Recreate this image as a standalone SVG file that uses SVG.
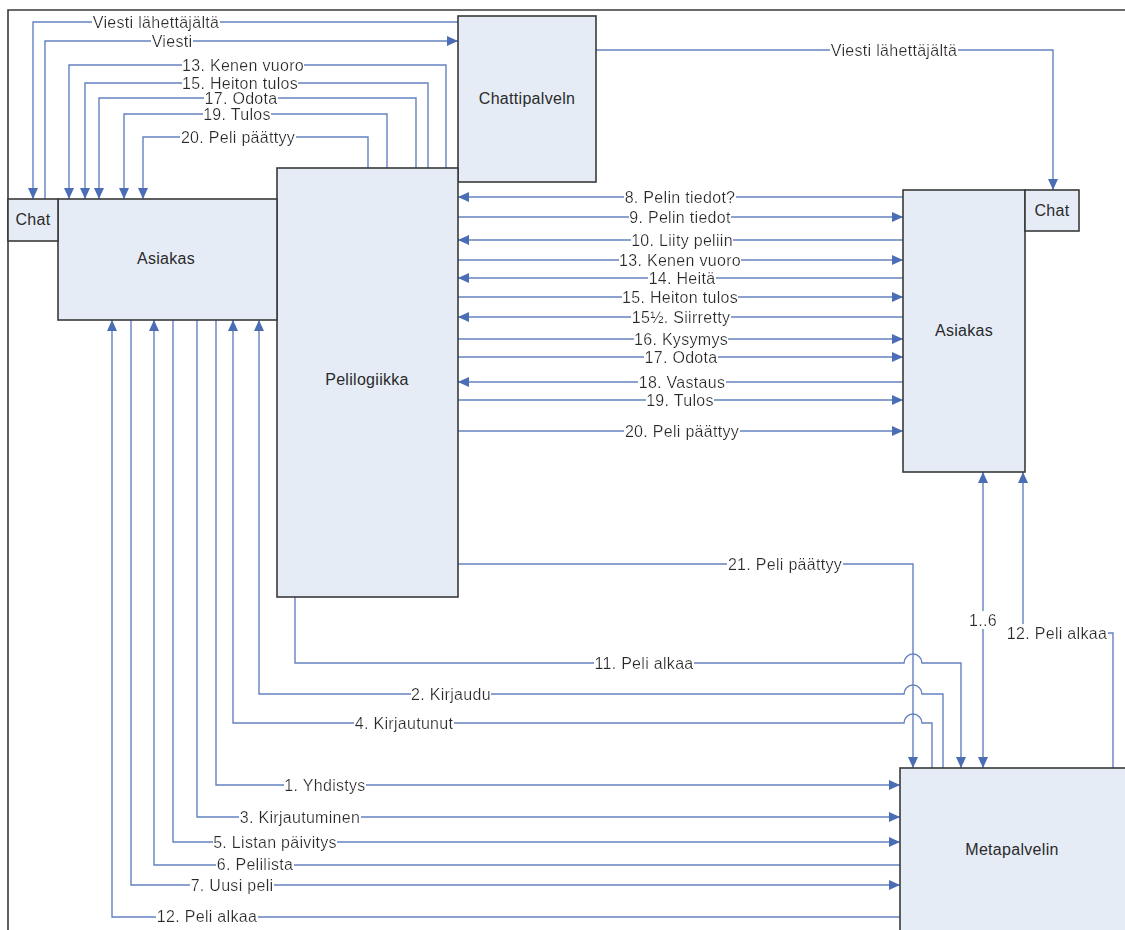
<svg xmlns="http://www.w3.org/2000/svg" width="1125" height="930" viewBox="0 0 1125 930">
<style>
.box{fill:#e6ecf6;stroke:#3a3a3a;stroke-width:1.6}
.nt{font-family:"Liberation Sans",Arial,sans-serif;font-size:16px;letter-spacing:0.3px;fill:#2a2a2a;text-anchor:middle}
.ln{fill:none;stroke:#6482c0;stroke-width:1.4}
.lb{font-family:"Liberation Sans",Arial,sans-serif;font-size:16px;letter-spacing:0.3px;fill:#2a2a2a;text-anchor:middle;filter:url(#bg)}
.frame{fill:none;stroke:#3a3a3a;stroke-width:1.6}
</style>
<defs>
<marker id="ar" markerUnits="userSpaceOnUse" markerWidth="12" markerHeight="11" refX="11" refY="5" orient="auto-start-reverse">
<path d="M0,0 L11,5 L0,10 z" fill="#4a6db5"/>
</marker>
<filter id="bg" x="0" y="0" width="1" height="1">
<feFlood flood-color="#ffffff" result="f"/>
<feMerge><feMergeNode in="f"/><feMergeNode in="SourceGraphic"/></feMerge>
</filter>
</defs>
<rect width="1125" height="930" fill="#ffffff"/>
<path class="frame" d="M8,930 V10 H1125"/>

<g id="connectors">
<path class="ln" d="M458,22 H33 V199" marker-end="url(#ar)"/>
<path class="ln" d="M45,199 V41 H458" marker-end="url(#ar)"/>
<path class="ln" d="M446,168 V65 H69 V199" marker-end="url(#ar)"/>
<path class="ln" d="M428,168 V83 H85 V199" marker-end="url(#ar)"/>
<path class="ln" d="M416,168 V98 H99 V199" marker-end="url(#ar)"/>
<path class="ln" d="M387,168 V114 H124 V199" marker-end="url(#ar)"/>
<path class="ln" d="M368,168 V137 H143 V199" marker-end="url(#ar)"/>
<path class="ln" d="M596,50 H1053 V190" marker-end="url(#ar)"/>

<path class="ln" d="M903,197 H458" marker-end="url(#ar)"/>
<path class="ln" d="M458,217 H903" marker-end="url(#ar)"/>
<path class="ln" d="M903,240 H458" marker-end="url(#ar)"/>
<path class="ln" d="M458,260 H903" marker-end="url(#ar)"/>
<path class="ln" d="M903,278 H458" marker-end="url(#ar)"/>
<path class="ln" d="M458,297 H903" marker-end="url(#ar)"/>
<path class="ln" d="M903,317 H458" marker-end="url(#ar)"/>
<path class="ln" d="M458,339 H903" marker-end="url(#ar)"/>
<path class="ln" d="M458,357 H903" marker-end="url(#ar)"/>
<path class="ln" d="M903,382 H458" marker-end="url(#ar)"/>
<path class="ln" d="M458,400 H903" marker-end="url(#ar)"/>
<path class="ln" d="M458,431 H903" marker-end="url(#ar)"/>

<path class="ln" d="M458,564 H913 V768" marker-end="url(#ar)"/>
<path class="ln" d="M295,597 V663 H904 A9,9 0 0 1 922,663 H961 V768" marker-end="url(#ar)"/>
<path class="ln" d="M943,768 V694 H922 A9,9 0 0 0 904,694 H259 V320" marker-end="url(#ar)"/>
<path class="ln" d="M932,768 V723 H922 A9,9 0 0 0 904,723 H233 V320" marker-end="url(#ar)"/>
<path class="ln" d="M216,320 V785 H900" marker-end="url(#ar)"/>
<path class="ln" d="M197,320 V817 H900" marker-end="url(#ar)"/>
<path class="ln" d="M173,320 V842 H900" marker-end="url(#ar)"/>
<path class="ln" d="M900,865 H154 V320" marker-end="url(#ar)"/>
<path class="ln" d="M131,320 V885 H900" marker-end="url(#ar)"/>
<path class="ln" d="M900,917 H112 V320" marker-end="url(#ar)"/>
<path class="ln" d="M983,768 V472" marker-start="url(#ar)" marker-end="url(#ar)"/>
<path class="ln" d="M1113,768 V633 H1023 V472" marker-end="url(#ar)"/>

<text class="lb" x="156" y="27.5">Viesti lähettäjältä</text>
<text class="lb" x="172" y="46.5">Viesti</text>
<text class="lb" x="243" y="70.5">13. Kenen vuoro</text>
<text class="lb" x="240" y="88.5">15. Heiton tulos</text>
<text class="lb" x="241" y="103.5">17. Odota</text>
<text class="lb" x="237" y="119.5">19. Tulos</text>
<text class="lb" x="238" y="142.5">20. Peli päättyy</text>
<text class="lb" x="894" y="55.5">Viesti lähettäjältä</text>

<text class="lb" x="680" y="202.5">8. Pelin tiedot?</text>
<text class="lb" x="680" y="222.5">9. Pelin tiedot</text>
<text class="lb" x="682" y="245.5">10. Liity peliin</text>
<text class="lb" x="680" y="265.5">13. Kenen vuoro</text>
<text class="lb" x="682" y="283.5">14. Heitä</text>
<text class="lb" x="680" y="302.5">15. Heiton tulos</text>
<text class="lb" x="681" y="322.5">15½. Siirretty</text>
<text class="lb" x="681" y="344.5">16. Kysymys</text>
<text class="lb" x="681" y="362.5">17. Odota</text>
<text class="lb" x="682" y="387.5">18. Vastaus</text>
<text class="lb" x="680" y="405.5">19. Tulos</text>
<text class="lb" x="682" y="436.5">20. Peli päättyy</text>

<text class="lb" x="785" y="569.5">21. Peli päättyy</text>
<text class="lb" x="644" y="668.5">11. Peli alkaa</text>
<text class="lb" x="451" y="699.5">2. Kirjaudu</text>
<text class="lb" x="404" y="728.5">4. Kirjautunut</text>
<text class="lb" x="325" y="790.5">1. Yhdistys</text>
<text class="lb" x="300" y="822.5">3. Kirjautuminen</text>
<text class="lb" x="275" y="847.5">5. Listan päivitys</text>
<text class="lb" x="255" y="869.5">6. Pelilista</text>
<text class="lb" x="232" y="890.5">7. Uusi peli</text>
<text class="lb" x="207" y="921.5">12. Peli alkaa</text>
<text class="lb" x="983" y="625.5">1..6</text>
<text class="lb" x="1057" y="638.5">12. Peli alkaa</text>
</g>

<g id="chattipalvelin">
<rect class="box" x="458" y="16" width="138" height="166"/>
<text class="nt" x="527" y="104">Chattipalveln</text>
</g>
<g id="pelilogiikka">
<rect class="box" x="277" y="168" width="181" height="429"/>
<text class="nt" x="367" y="385">Pelilogiikka</text>
</g>
<g id="asiakas-left">
<rect class="box" x="58" y="199" width="219" height="121"/>
<text class="nt" x="166" y="264">Asiakas</text>
</g>
<g id="chat-left">
<rect class="box" x="8" y="199" width="50" height="42"/>
<text class="nt" x="33" y="225">Chat</text>
</g>
<g id="asiakas-right">
<rect class="box" x="903" y="190" width="122" height="282"/>
<text class="nt" x="964" y="336">Asiakas</text>
</g>
<g id="chat-right">
<rect class="box" x="1025" y="190" width="54" height="41"/>
<text class="nt" x="1052" y="216">Chat</text>
</g>
<g id="metapalvelin">
<rect class="box" x="900" y="768" width="240" height="180"/>
<text class="nt" x="1012" y="855">Metapalvelin</text>
</g>
</svg>
